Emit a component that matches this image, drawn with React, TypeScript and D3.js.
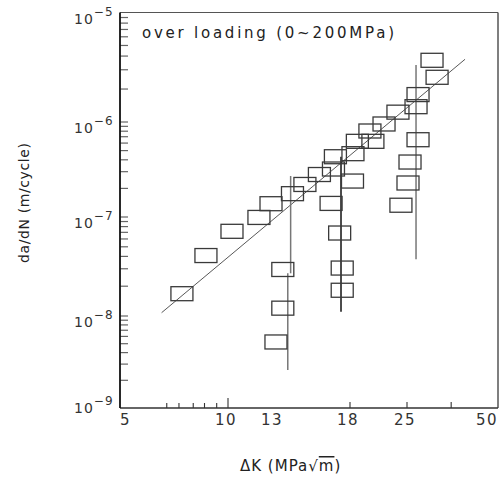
import React from "react";
import * as d3 from "d3";

// ---- data ----
const mainDK = [7.44, 8.68, 10.23, 11.93, 12.78, 14.07, 14.84, 15.79, 16.77, 16.91, 18.31, 18.78, 20.54, 20.19, 21.9, 23.73, 26.78, 27.19, 31.44, 30.25];
const mainRate = [1.68e-8, 4.08e-8, 7.17e-8, 9.9e-8, 1.38e-7, 1.76e-7, 2.2e-7, 2.8e-7, 3.2e-7, 4.31e-7, 4.64e-7, 6.26e-7, 6.26e-7, 8.04e-7, 9.53e-7, 1.23e-6, 1.38e-6, 1.78e-6, 2.56e-6, 3.66e-6];

const groupADK = [13.5, 13.5, 13.11];
const groupARate = [2.95e-8, 1.2e-8, 5.22e-9];
const groupBDK = [16.6, 17.22, 17.41, 17.41, 18.26];
const groupBRate = [1.39e-7, 6.89e-8, 3.05e-8, 1.82e-8, 2.39e-7];
const groupCDK = [27.19, 25.58, 25.19, 24.14];
const groupCRate = [6.51e-7, 3.79e-7, 2.28e-7, 1.33e-7];

const fitDK = [6.53, 38.9];
const fitRate = [1.08e-8, 3.74e-6];

const vlineDK = [13.96, 13.79, 17.32, 26.78];
const vlineTop = [2.7e-7, 2.7e-8, 4.31e-7, 3.31e-6];
const vlineBottom = [2.7e-8, 2.59e-9, 1.105e-8, 3.74e-8];
const vlineColor = ["#777", "#777", "#111", "#777"];

const xTickLabels = [5, 10, 13, 18, 25, 50];
const xMinorTicks = [6.75, 7.3, 8, 8.6, 9.3];
const xMidTicks = [18, 25, 35];
const yDecades = [-9, -8, -7, -6, -5];

const title = "over loading (0~200MPa)";
const xTitle = "ΔK (MPa";
const yTitle = "da/dN (m/cycle)";

// ---- layout ----
const W = 500;
const H = 478;
const L = 120, R = 498, T = 12.5, B = 408;

const x = d3.scaleLog().domain([5, 10, 13, 18, 25, 50]).range([L, 228, 274, 350, 407, R]);
const y = d3.scaleLog().domain([1e-9, 1e-8, 1e-7, 1e-6, 1e-5]).range([B, 316, 217, 122, T]);

const font = "'DejaVu Sans', sans-serif";

export default function App() {
  const allPts: [number, number][] = [];
  [[mainDK, mainRate], [groupADK, groupARate], [groupBDK, groupBRate], [groupCDK, groupCRate]].forEach(([dk, r]) => {
    dk.forEach((v, i) => allPts.push([v, r[i]]));
  });

  const yMinor: number[] = [];
  for (let e = -9; e < -5; e++) {
    for (let k = 1; k <= 9; k++) {
      if (e === -9 && k === 1) continue;
      yMinor.push(k * Math.pow(10, e));
    }
  }

  const fitLine = d3.line<number>().x((d) => x(fitDK[d])).y((d) => y(fitRate[d]))([0, 1]);

  return (
    <svg width={W} height={H} style={{ position: "absolute", left: 0, top: 0, background: "#fff" }} fontFamily={font}>
      {/* y ticks */}
      {yMinor.map((v, i) => (
        <line key={"ym" + i} x1={L} x2={L + 8} y1={y(v)} y2={y(v)} stroke="#666" strokeWidth={1.2} />
      ))}
      {/* x ticks */}
      {xMinorTicks.map((v, i) => (
        <line key={"xm" + i} x1={x(v)} x2={x(v)} y1={B} y2={B - 5} stroke="#333" strokeWidth={1.1} />
      ))}
      <line x1={x(10)} x2={x(10)} y1={B} y2={B - 10} stroke="#333" strokeWidth={1.1} />
      {xMidTicks.map((v, i) => (
        <line key={"xt" + i} x1={x(v)} x2={x(v)} y1={B} y2={B - 6} stroke="#333" strokeWidth={1.1} />
      ))}

      {/* frame */}
      <line x1={L} x2={R} y1={T} y2={T} stroke="#555" strokeWidth={1.2} />
      <line x1={R} x2={R} y1={T} y2={B} stroke="#555" strokeWidth={1.5} />
      <line x1={L} x2={R} y1={B} y2={B} stroke="#333" strokeWidth={1.5} />
      <line x1={L} x2={L} y1={T} y2={B} stroke="#111" strokeWidth={1.8} />

      {/* fit line */}
      <path d={fitLine || ""} fill="none" stroke="#444" strokeWidth={0.9} />

      {/* vertical lines */}
      {vlineDK.map((v, i) => (
        <line key={"v" + i} x1={x(v)} x2={x(v)} y1={y(vlineTop[i])} y2={y(vlineBottom[i])} stroke={vlineColor[i]} strokeWidth={1.5} />
      ))}

      {/* markers */}
      {allPts.map(([dk, r], i) => (
        <rect key={"p" + i} x={x(dk) - 11} y={y(r) - 7} width={22} height={14} fill="none" stroke="#3a3a3a" strokeWidth={1.3} />
      ))}

      {/* y tick labels */}
      {yDecades.map((e) => (
        <text key={"yl" + e} x={74} y={y(Math.pow(10, e)) + (e === -9 ? 5 : 11)} fontSize={14} fill="#333" letterSpacing={1}>
          10
          <tspan dy={-8} fontSize={12}>{"\u2212" + Math.abs(e)}</tspan>
        </text>
      ))}

      {/* x tick labels */}
      {xTickLabels.map((v, i) => (
        <text
          key={"xl" + v}
          x={i === 0 ? L : i === xTickLabels.length - 1 ? R : x(v) - 2}
          y={425}
          fontSize={15}
          fill="#333"
          letterSpacing={1.5}
          textAnchor={i === 0 ? "start" : i === xTickLabels.length - 1 ? "end" : "middle"}
        >
          {v}
        </text>
      ))}

      {/* title inside */}
      <text x={142} y={38} fontSize={15} fill="#222" textLength={252} lengthAdjust="spacing">
        {title}
      </text>

      {/* axis titles */}
      <text x={240} y={471} fontSize={15} fill="#222" letterSpacing={1}>
        {xTitle}
        <tspan>{"\u221A"}</tspan>
        <tspan style={{ textDecoration: "overline" }}>m</tspan>
        <tspan>)</tspan>
      </text>
      <text
        transform={`translate(29,203) rotate(-90)`}
        fontSize={14}
        fill="#222"
        textAnchor="middle"
        textLength={120}
        lengthAdjust="spacing"
      >
        {yTitle}
      </text>
    </svg>
  );
}
